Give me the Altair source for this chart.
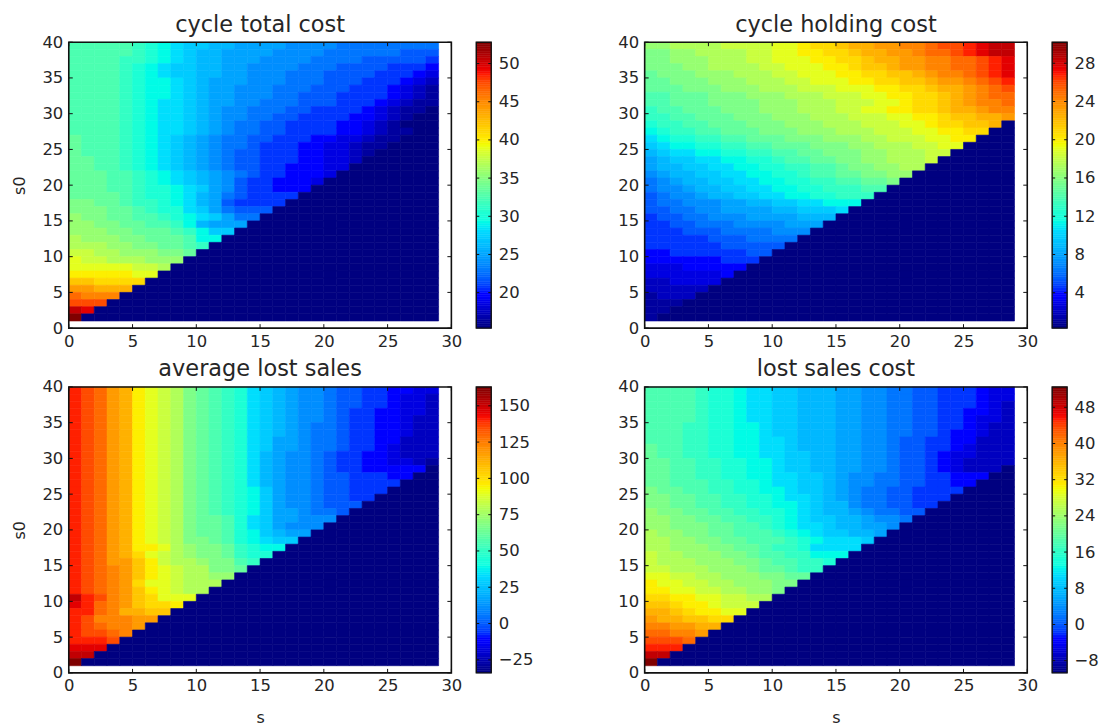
import altair as alt
import numpy as np
import pandas as pd

TITLES = ["cycle total cost", "cycle holding cost", "average lost sales", "lost sales cost"]
DOMAINS = [(15.35, 52.8), (0.3, 30.2), (-34.0, 163.0), (-10.7, 52.5)]
BAR_TICKS = [
    [20, 25, 30, 35, 40, 45, 50],
    [4, 8, 12, 16, 20, 24, 28],
    [-25, 0, 25, 50, 75, 100, 125, 150],
    [-8, 0, 8, 16, 24, 32, 40, 48],
]
X_TICKS = [0, 5, 10, 15, 20, 25, 30]
Y_TICKS = [0, 5, 10, 15, 20, 25, 30, 35, 40]

# Colour level per cell, base 36, 0 = bottom of the scale and z = top. Rows run from s0=39 down to s0=1.
TOTAL = [
"gggggfedcbbaa9999888877777777", "gggggfedcbaa99998888777777666", "ggggffedcbaa99988887777666665",
"ggggfedcbbaa99888877766665554", "ggggfedcbbaa99888777666655543", "ggggfeddcba999888777666555432",
"ggggfeddcba998887776665554321", "ggggfeddcba998887766655554321", "ggggfedccba998877766655543211",
"ggggfedccba988777665555432110", "ggggfedccba988776655554432100", "ggggfedccba98776655554432100",
"ggggfedccba9877665555443211", "hgggfedcba98776655544332110", "hgggfedcba9877655544332110",
"hgggfedcba98766555443321", "hhggfedcba9876655544332", "hhggfedcba987665544433",
"hhhggfedcba98765544433", "hhhggfedcba986554443", "hhhggfeedcb98655444",
"hhhhgfeedca976555", "iihhgffedca965555", "iiihhgfeecb97666", "jiihhggfedcb977",
"jjiihhggfda999", "jjjiihhhgfdbb", "kjjjiihhhgdd", "kkkjjiihhgf", "llkkjjjiih",
"mllkkkjjj", "mmmmmllk", "nnnnnmm", "ppoooo", "rrqqq", "tsss", "uuu", "xw", "z",
]
HOLDING = [
"jjkkkkllllmmnoopqqrrsstuuvwxx", "iijjkkkkllmmnnoopqqrrsttuvwxx", "iijjjkkkllmmmnnoopqqrrssttuvw",
"iiijjkkkkllmmmnnoppqrrssttuvw", "hiiijjjkkkllmmmnnooppqrsstuvw", "hhiiijjjkkkllmmmnnooppqrrstuv",
"hhhiiijjjkkklllmmmnnoopqqrstu", "gghhhiiijjjkkklllmmnnoopqrstt", "gghhhiiiijjjkkklllmmnoopqrsst",
"fgghhhiiijjjkkkllmmnnoopqqrss", "ffgghhhiiijjjkkklllmmnnoppqqr", "effgghhhiiijjjkkklllmmnooppq",
"deffgghhhiiijjjkkklllmmnnoo", "cdeeffgghhhiiijjjkklllmmnn", "bcddeeffgghhhiiijjkkkllmm",
"abccddeeffgghhiiijjkkkll", "9abbccddeefgghhiijjkkkl", "9aabbccddeeffgghiijjkk",
"89aabbccddeefgghhiijj", "789aabbccddeeffgghhi", "7889aabbccddeefffgg", "67889aabbccddeefff",
"67788899aabbccddd", "6677889999aabbbc", "566778889999aaa", "55667778888999", "5556667777888",
"555556667777", "55555566666", "4455555566", "444444555", "33344444", "3333334", "223333",
"22222", "1222", "111", "11", "1",
]
LOST = [
"vutrqnmlkihgfecba988766554433", "vutrqnmlkihgfecba988766554332", "vutrqnmlkihgfecba988766554332",
"vutrqnmlkihgfecba988765544332", "vutrqnmlkihgfecba988765544322", "vutrqnmlkihgfecba987765544322",
"vutrqnmlkihgfecba987765544322", "vutrqnmlkihgfecb9987765544222", "vutrqnmlkihgfecb9987765543222",
"vutrqnmlkihgfeca9887655443222", "vutrqnmlkihgfeca9887655443321", "vutrqnmlkihgfeca988765544444",
"vutrqnmlkihgfeca98876655544", "vutrqnmlkihgfeca9887665555", "vutrqnmlkihgfedb988766555",
"vutrqnmlkihgfedb98876655", "vutrqnmlkihgfedb9887666", "vutrqnmlkihgfedb998776",
"vutrqnmlkihhgecb9988", "vutrqnmlkihhgecb988", "vutrqnmlkihhgedba9", "vutrqnmlkiihgedcb",
"vutrqnnmkjiihfed", "vutrqomlkjiihfe", "vutrrpnlkkjiigf", "vutsrpnmlkkiih", "vutsrpnmlkkjj",
"vutsrommlkkk", "vutsrpnmlkk", "xvusrpommm", "wvtsrpoon", "vvtsqqpp", "vusssrr", "vutssr",
"vuuts", "vvvu", "www", "xx", "z",
]
SALES = [
"ggggfeedccbbaaa99887766555433", "ggggfeedccbbaaa99887766555433", "ggggfeedccbbaaa99887766555432",
"ggggfeedccbbaaa99887766554432", "ggggfeedccbbaaa99887766554332", "gggffeeddcbbaaa99887766554322",
"gggffeeddcbbaaa99887766544322", "gggffeeddccbaaa99887665544222", "hggffeeddccbaaa99887665543222",
"hggffeeddccbbaa99887665433222", "hhggffeeddcbbaa99887665432222", "hhggffeeddcbbaa9988766543222",
"hhggffeeddccbba988776655444", "hhgggffeedccbba98877665544", "ihhggffeeddcbba9877665555",
"iihhggffeedccba987766555", "iihhggffeeddcbaa8776655", "jiihhggffeedcbaa987766",
"jjiihhggffedcbbaa9887", "jjiiihhggfedccbaa998", "kjjiihhgggfedcbbaa9", "kkjjiihhgggfedcccb",
"kkjjjiihhgffecccc", "lkkjjjiihggffddd", "lkkkjjjiihggffe", "llkkkjjjihhgff", "mmllkkjjjiihh",
"nmmllkkjjjii", "nnmmllkkjji", "oonnmmllkk", "pponnmlll", "qqponnmm", "rqqppoo", "ssrrqq",
"ttssr", "uuut", "vvv", "xx", "z",
]
PANELS = [TOTAL, HOLDING, LOST, SALES]

W, H, BAR_W, TICK = 384, 287, 15, 4
INK = "#262626"

# matplotlib's "jet" stops
stops = sorted({0, .11, .125, .34, .35, .375, .64, .65, .66, .89, .91, 1})
reds = np.interp(stops, [0, .35, .66, .89, 1], [0, 0, 1, 1, .5])
greens = np.interp(stops, [0, .125, .375, .64, .91, 1], [0, 0, 1, 1, 0, 0])
blues = np.interp(stops, [0, .11, .34, .65, 1], [.5, 1, 1, 0, 0])
JET = ["#%02x%02x%02x" % (round(r * 255), round(g * 255), round(b * 255)) for r, g, b in zip(reds, greens, blues)]


def color_scale(lo, hi):
    return alt.Scale(domain=[lo + s * (hi - lo) for s in stops], range=JET, clamp=True)


def table(rows, lo, hi):
    out = []
    for i, row in enumerate(rows):
        y = 39 - i
        n = min(y, 29)
        cells = row[:n].ljust(n, row[-1]).ljust(29, "0")
        for c, ch in enumerate(cells):
            out.append({"s": c, "s_end": c + 1, "s0": y, "s0_end": y + 1,
                        "v": lo + int(ch, 36) / 35 * (hi - lo)})
    return pd.DataFrame(out)


def frame():
    return alt.Chart(pd.DataFrame({"a": [0]})).mark_rect(
        fillOpacity=0, stroke="#111111", strokeWidth=1.6
    ).encode(x=alt.value(0), x2=alt.value(W), y=alt.value(0), y2=alt.value(H))


def heat(idx, show_y, show_x):
    lo, hi = DOMAINS[idx]
    xs = alt.Scale(domain=[0, 30], nice=False, zero=False)
    ys = alt.Scale(domain=[0, 40], nice=False, zero=False)
    xa = alt.Axis(values=X_TICKS, tickSize=0, domain=False, grid=False, labelFontSize=16.5,
                  labelColor=INK, labelPadding=5, labelFlush=False, labelOverlap=False, format="d",
                  title="s" if show_x else None, titleFontSize=16, titleFontWeight="normal",
                  titleColor=INK, titlePadding=15)
    ya = alt.Axis(values=Y_TICKS, tickSize=0, domain=False, grid=False, labelFontSize=16.5,
                  labelColor=INK, labelPadding=6, labelFlush=False, labelOverlap=False, format="d",
                  title="s0" if show_y else None, titleFontSize=16, titleFontWeight="normal",
                  titleColor=INK, titlePadding=14)
    cells = alt.Chart(table(PANELS[idx], lo, hi)).mark_rect(strokeWidth=0.6).encode(
        x=alt.X("s:Q", scale=xs, axis=xa),
        x2="s_end:Q",
        y=alt.Y("s0:Q", scale=ys, axis=ya),
        y2="s0_end:Q",
        color=alt.Color("v:Q", scale=color_scale(lo, hi), legend=None),
        stroke=alt.Stroke("v:Q", scale=color_scale(lo, hi), legend=None),
    )
    xt = pd.DataFrame({"t": X_TICKS})
    yt = pd.DataFrame({"t": Y_TICKS})
    tick = dict(color="#111111", strokeWidth=1)
    tx = alt.X("t:Q", scale=xs, axis=xa)
    ty = alt.Y("t:Q", scale=ys, axis=ya)
    layers = [
        cells,
        alt.Chart(xt).mark_rule(**tick).encode(x=tx, y=alt.value(0), y2=alt.value(TICK)),
        alt.Chart(xt).mark_rule(**tick).encode(x=tx, y=alt.value(H - TICK), y2=alt.value(H)),
        alt.Chart(yt).mark_rule(**tick).encode(y=ty, x=alt.value(0), x2=alt.value(TICK)),
        alt.Chart(yt).mark_rule(**tick).encode(y=ty, x=alt.value(W - TICK), x2=alt.value(W)),
        frame(),
    ]
    return alt.layer(*layers).properties(
        width=W, height=H,
        title=alt.TitleParams(TITLES[idx], fontSize=22.5, fontWeight="normal", color=INK, offset=-2),
    )


def bar(idx):
    lo, hi = DOMAINS[idx]
    edges = np.linspace(lo, hi, 129)
    df = pd.DataFrame({"a": edges[:-1], "b": edges[1:]})
    df["v"] = (df["a"] + df["b"]) / 2
    ys = alt.Scale(domain=[lo, hi], nice=False, zero=False)
    ya = alt.Axis(values=BAR_TICKS[idx], orient="right", tickSize=0, domain=False, grid=False,
                  labelFontSize=16.5, labelColor=INK, labelPadding=7, title=None, labelFlush=False,
                  labelOverlap=False)
    strip = alt.Chart(df).mark_rect(strokeWidth=0.5).encode(
        x=alt.value(0), x2=alt.value(BAR_W),
        y=alt.Y("a:Q", scale=ys, axis=ya), y2="b:Q",
        color=alt.Color("v:Q", scale=color_scale(lo, hi), legend=None),
        stroke=alt.Stroke("v:Q", scale=color_scale(lo, hi), legend=None),
    )
    tt = pd.DataFrame({"t": BAR_TICKS[idx]})
    tick = dict(color="#111111", strokeWidth=1)
    ty = alt.Y("t:Q", scale=ys, axis=ya)
    left = alt.Chart(tt).mark_rule(**tick).encode(y=ty, x=alt.value(0), x2=alt.value(3))
    right = alt.Chart(tt).mark_rule(**tick).encode(y=ty, x=alt.value(BAR_W - 3), x2=alt.value(BAR_W))
    box = alt.Chart(pd.DataFrame({"a": [0]})).mark_rect(
        fillOpacity=0, stroke="#111111", strokeWidth=1.4
    ).encode(x=alt.value(0), x2=alt.value(BAR_W), y=alt.value(0), y2=alt.value(H))
    return alt.layer(strip, left, right, box).properties(width=BAR_W, height=H)


def spacer():
    return alt.Chart(pd.DataFrame({"a": [0]})).mark_point(opacity=0).encode(
        x=alt.value(0), y=alt.value(0)
    ).properties(width=104, height=H)


chart = alt.concat(
    heat(0, True, False), bar(0), spacer(), heat(1, False, False), bar(1),
    heat(2, True, True), bar(2), spacer(), heat(3, False, True), bar(3),
    columns=5, spacing={"row": 59, "column": 25},
    bounds="flush", align="each",
).resolve_scale(color="independent", stroke="independent").properties(
    padding={"left": 4, "top": 4, "right": 0, "bottom": 0},
    background="white",
).configure_view(stroke=None).configure_axis(labelFont="DejaVu Sans", titleFont="DejaVu Sans").configure_title(font="DejaVu Sans")

chart.save("out.html", embed_options={"renderer": "svg", "actions": False})
